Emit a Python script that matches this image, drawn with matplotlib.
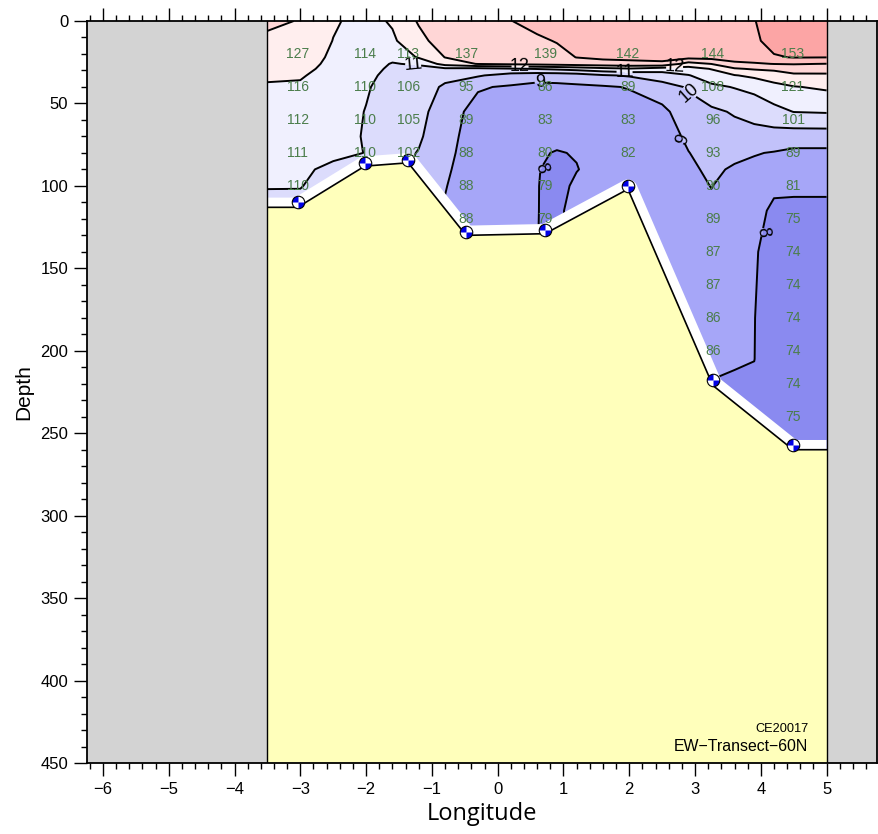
import numpy as np
import matplotlib
matplotlib.use('Agg')
import matplotlib.pyplot as plt
from matplotlib.path import Path
from matplotlib.markers import MarkerStyle
from matplotlib.ticker import MultipleLocator

plt.rcParams['font.family'] = ['Liberation Sans', 'DejaVu Sans']

# gridded section: longitude of each profile, depth of each level
grid_lon = [-3.5, -3.0, -2.5, -2.0, -1.6, -1.2, -0.8, -0.3, 0.2, 0.6, 0.9,
            1.2, 1.6, 2.0, 2.5, 2.9, 3.25, 3.6, 3.9, 4.2, 4.5, 5.0]
grid_depth = [0, 12, 22, 26, 29, 33, 40, 55, 70, 80, 90, 100, 115, 140, 180, 205, 220, 270]

# contoured variable, one profile per grid_lon
temp_profiles = [
    [13.2, 12.8, 12.5, 12.35, 12.25, 12.1, 11.93, 11.7, 11.5, 11.35, 11.18, 11.03, 10.8, 10.6, 10.4, 10.35, 10.3, 10.2],
    [12.95, 12.7, 12.45, 12.32, 12.22, 12.07, 11.9, 11.65, 11.42, 11.28, 11.08, 11.02, 10.85, 10.6, 10.4, 10.35, 10.3, 10.2],
    [12.1, 11.98, 11.85, 11.8, 11.75, 11.7, 11.6, 11.4, 11.2, 11.1, 10.9, 10.8, 10.7, 10.55, 10.4, 10.35, 10.3, 10.2],
    [11.7, 11.6, 11.45, 11.35, 11.3, 11.2, 11.08, 10.97, 10.96, 10.99, 10.88, 10.8, 10.7, 10.55, 10.4, 10.35, 10.3, 10.2],
    [12.1, 11.85, 11.2, 10.95, 10.85, 10.75, 10.65, 10.55, 10.45, 10.4, 10.35, 10.3, 10.25, 10.2, 10.1, 10.08, 10.05, 10.05],
    [13.1, 12.7, 12.1, 11.1, 10.75, 10.6, 10.5, 10.35, 10.15, 9.95, 9.8, 9.7, 9.6, 9.5, 9.4, 9.35, 9.3, 9.3],
    [13.8, 13.5, 13.02, 12.4, 10.8, 10.3, 9.85, 9.4, 9.25, 9.18, 9.1, 9.03, 8.95, 8.85, 8.8, 8.8, 8.8, 8.8],
    [13.85, 13.75, 13.5, 13.05, 10.7, 10.1, 9.08, 8.7, 8.65, 8.62, 8.6, 8.58, 8.55, 8.5, 8.5, 8.5, 8.5, 8.5],
    [13.98, 13.9, 13.6, 13.2, 10.9, 9.6, 8.9, 8.6, 8.45, 8.4, 8.35, 8.3, 8.25, 8.2, 8.2, 8.2, 8.2, 8.2],
    [14.3, 13.85, 13.6, 13.3, 11.05, 9.4, 8.75, 8.45, 8.2, 8.06, 8.03, 8.02, 8.02, 8.01, 7.99, 7.99, 7.99, 7.99],
    [14.4, 14.05, 13.7, 13.4, 11.2, 9.4, 8.8, 8.4, 8.15, 7.97, 7.85, 7.82, 7.8, 7.8, 7.8, 7.8, 7.8, 7.8],
    [14.5, 14.3, 14.02, 13.5, 11.4, 9.5, 8.85, 8.45, 8.15, 8.03, 7.98, 8.1, 8.35, 8.4, 8.4, 8.4, 8.4, 8.4],
    [14.6, 14.45, 14.2, 13.6, 11.7, 9.9, 8.9, 8.5, 8.35, 8.25, 8.2, 8.2, 8.25, 8.3, 8.3, 8.3, 8.3, 8.3],
    [14.6, 14.5, 14.25, 13.7, 11.9, 10.1, 9.05, 8.6, 8.45, 8.4, 8.35, 8.35, 8.35, 8.4, 8.4, 8.4, 8.4, 8.4],
    [14.7, 14.55, 14.3, 13.8, 11.5, 10.5, 9.6, 8.75, 8.6, 8.5, 8.45, 8.45, 8.45, 8.5, 8.5, 8.5, 8.5, 8.5],
    [14.75, 14.6, 14.3, 12.6, 11.6, 10.95, 10.1, 9.6, 9.15, 8.98, 8.85, 8.75, 8.7, 8.6, 8.55, 8.52, 8.5, 8.5],
    [14.8, 14.65, 14.35, 13.02, 12.05, 11.5, 10.8, 9.8, 9.45, 9.3, 9.15, 9.02, 8.85, 8.6, 8.4, 8.2, 7.96, 7.9],
    [14.85, 14.7, 14.4, 13.8, 12.9, 11.95, 11.05, 10.1, 9.6, 9.2, 8.9, 8.7, 8.55, 8.4, 8.2, 8.08, 7.9, 7.85],
    [14.95, 14.8, 14.5, 13.9, 13.1, 12.2, 11.3, 10.3, 9.7, 9.05, 8.8, 8.6, 8.35, 8.1, 8.02, 8.01, 7.9, 7.85],
    [15.6, 15.4, 14.9, 14.02, 13.2, 12.5, 11.7, 10.7, 9.6, 8.95, 8.5, 8.2, 7.8, 7.6, 7.55, 7.52, 7.5, 7.5],
    [15.7, 15.5, 15.05, 14.05, 13.5, 12.8, 11.95, 11.02, 9.5, 8.8, 8.5, 8.2, 7.75, 7.45, 7.4, 7.4, 7.4, 7.45],
    [15.8, 15.6, 15.02, 13.98, 13.4, 12.85, 12.15, 11.08, 9.5, 8.8, 8.5, 8.2, 7.75, 7.4, 7.35, 7.35, 7.35, 7.4],
]
fill_levels = [6, 8, 9, 10, 11, 12, 13, 14, 15, 17]
fill_colors = ['#8a8af0', '#a6a6f8', '#c2c2fa', '#dcdcfc', '#f0f0fe',
               '#ffeeee', '#ffd6d6', '#ffc0c0', '#fca5a5']

# bathymetry and stations
bottom_lon = [-3.5, -3.04, -2.02, -1.36, -0.48, 0.72, 1.98, 3.27, 4.49, 5.0]
bottom_depth = [113, 113, 88, 86, 130, 129, 102, 221, 260, 260]
station_lon = [-3.04, -2.02, -1.36, -0.48, 0.72, 1.98, 3.27, 4.49]
station_depth = [110, 86, 84, 128, 127, 100, 218, 257]

# second variable printed as numbers (every 20 m from 20 m)
sample_values = [
    [127, 116, 112, 111, 110],
    [114, 110, 110, 110],
    [113, 106, 105, 102],
    [137, 95, 89, 88, 88, 88],
    [139, 86, 83, 80, 79, 79],
    [142, 89, 83, 82],
    [144, 108, 96, 93, 90, 89, 87, 87, 86, 86],
    [153, 121, 101, 89, 81, 75, 74, 74, 74, 74, 74, 75],
]

fig = plt.figure(figsize=(8.79, 8.34), dpi=100)
ax = fig.add_axes([87 / 879, 71 / 834, 790 / 879, 742 / 834])

T = np.array(temp_profiles).T
ax.contourf(grid_lon, grid_depth, T, levels=fill_levels, colors=fill_colors, zorder=1)

# one line set per level so each label lands on its own level
label_spots = {8: [(0.63, 89), (4.0, 128)],
               9: [(0.64, 36), (2.81, 72)],
               10: [(2.92, 43)],
               11: [(-1.28, 25), (1.93, 29.7)],
               12: [(0.34, 28.5), (2.69, 28.5)]}
for lev in fill_levels[1:-1]:
    cs = ax.contour(grid_lon, grid_depth, T, levels=[lev], colors='k',
                    linewidths=1.4, zorder=2)
    if lev in label_spots:
        cs.clabel(manual=label_spots[lev], fmt='%d', fontsize=13,
                  inline=True, inline_spacing=2)

# white gap above the sea floor, then the floor itself
ax.plot(bottom_lon, bottom_depth, color='white', lw=14, solid_joinstyle='round',
        solid_capstyle='butt', zorder=3)
ax.fill_between(bottom_lon, bottom_depth, 450, color='#ffffbb', lw=0, zorder=4)
ax.plot(bottom_lon, bottom_depth, color='k', lw=1.2, zorder=5)

# station markers: checkered circle
ax.plot(station_lon, station_depth, 'o', ms=9, mfc='white', mec='none', zorder=6)
for quad in [(90, 180), (270, 360)]:
    ax.plot(station_lon, station_depth, ls='none', marker=MarkerStyle(Path.wedge(*quad)),
            ms=9, mfc='#0000e6', mec='none', zorder=6)
ax.plot(station_lon, station_depth, 'o', ms=9, mfc='none', mec='k', mew=0.8, zorder=6)

for sx, vals in zip(station_lon, sample_values):
    for i, v in enumerate(vals):
        ax.text(sx, 20 + 20 * i, str(v), color='#4b7d4b', fontsize=10,
                ha='center', va='center', zorder=8)

xmin, xmax = -6.242, 5.766
ax.axvspan(xmin, -3.5, color='#d3d3d3', lw=0, zorder=7)
ax.axvspan(5.0, xmax, color='#d3d3d3', lw=0, zorder=7)
ax.axvline(-3.5, color='k', lw=1, zorder=7)
ax.axvline(5.0, color='k', lw=1, zorder=7)

ax.set_xlim(xmin, xmax)
ax.set_ylim(450, 0)
ax.xaxis.set_major_locator(MultipleLocator(1))
ax.xaxis.set_minor_locator(MultipleLocator(0.2))
ax.yaxis.set_major_locator(MultipleLocator(50))
ax.yaxis.set_minor_locator(MultipleLocator(10))
ax.tick_params(which='both', direction='out', top=True, right=False, width=1)
ax.tick_params(which='major', length=9.5, labelsize=12, pad=4)
ax.tick_params(which='minor', length=4.5)
for s in ax.spines.values():
    s.set_linewidth(1.3)
    s.set_zorder(9)

ax.set_xlabel('Longitude', fontsize=17, family=['Open Sans', 'DejaVu Sans'], labelpad=4)
ax.set_ylabel('Depth', fontsize=15, labelpad=5)

ax.text(0.913, 0.046, 'CE20017', transform=ax.transAxes, ha='right', va='center',
        fontsize=9.2, zorder=8)
ax.text(0.913, 0.022, 'EW\u2212Transect\u221260N', transform=ax.transAxes, ha='right',
        va='center', fontsize=11.4, zorder=8)

fig.savefig('out.png', dpi=100)
